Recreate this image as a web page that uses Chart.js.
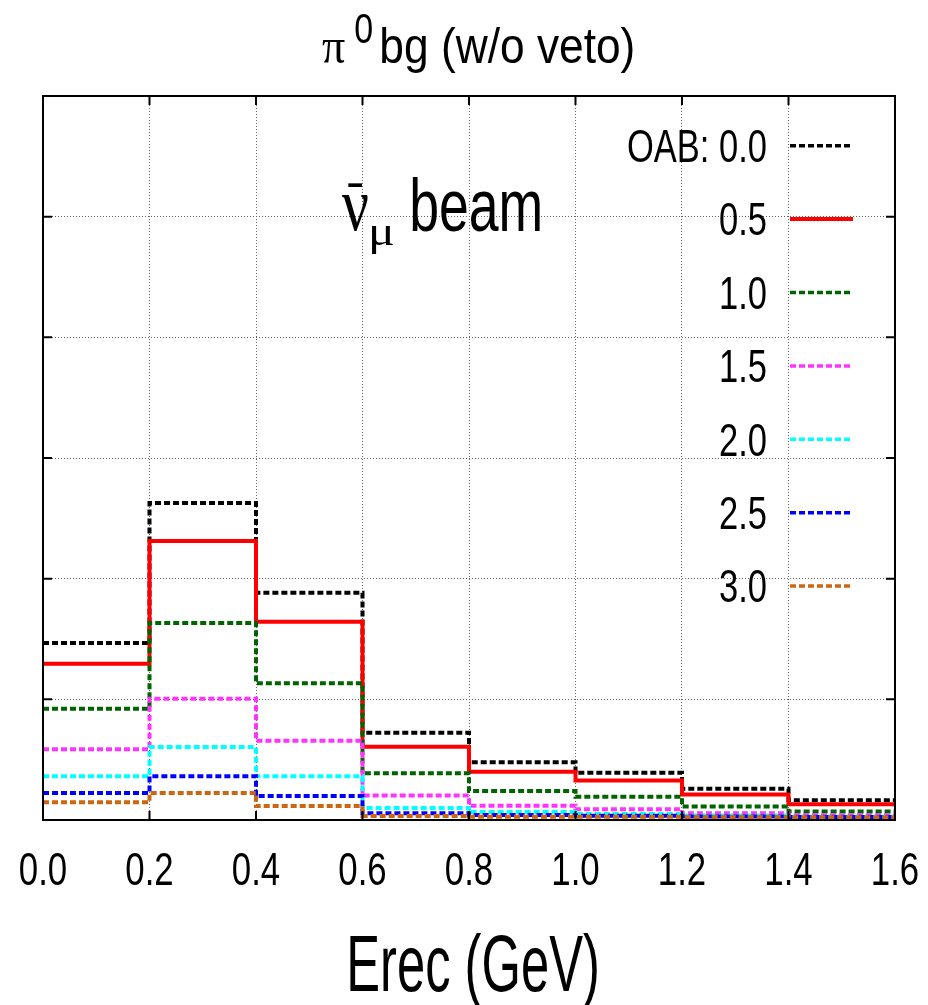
<!DOCTYPE html>
<html>
<head>
<meta charset="utf-8">
<title>pi0 bg (w/o veto)</title>
<script src="https://cdn.jsdelivr.net/npm/chart.js@4.4.1/dist/chart.umd.min.js"></script>
<style>
  html, body { margin: 0; padding: 0; background: #fff; }
  #wrap { width: 928px; height: 1005px; }
</style>
</head>
<body>
<div id="wrap"><canvas id="histChart"></canvas></div>
<script>
// bin edges in Erec (GeV) and tick labels
const edges = [0.0, 0.2, 0.4, 0.6, 0.8, 1.0, 1.2, 1.4, 1.6];
const tickLabels = ['0.0', '0.2', '0.4', '0.6', '0.8', '1.0', '1.2', '1.4', '1.6'];

// per-bin counts, one array per off-axis angle (arbitrary units)
const oab00 = [1.467, 2.627, 1.884, 0.723, 0.478, 0.392, 0.259, 0.164];
const oab05 = [1.295, 2.312, 1.643, 0.607, 0.400, 0.327, 0.211, 0.131];
const oab10 = [0.922, 1.633, 1.133, 0.387, 0.240, 0.192, 0.112, 0.070];
const oab15 = [0.586, 1.005, 0.657, 0.203, 0.119, 0.089, 0.056, 0.039];
const oab20 = [0.362, 0.605, 0.362, 0.099, 0.066, 0.050, 0.037, 0.027];
const oab25 = [0.224, 0.362, 0.199, 0.056, 0.041, 0.036, 0.029, 0.025];
const oab30 = [0.147, 0.224, 0.116, 0.033, 0.027, 0.027, 0.025, 0.022];

const oabLabels = ['OAB: 0.0', '0.5', '1.0', '1.5', '2.0', '2.5', '3.0'];
const oabSeries = [oab00, oab05, oab10, oab15, oab20, oab25, oab30];
const oabColors = ['#000000', '#ff0000', '#006400', '#ff33ff', '#00ffff', '#0000ff', '#cc6611'];
const oabDash = [[6, 3], [], [6, 3], [6, 3], [6, 3], [6, 3], [6, 3]];

// each bin value starts at its left edge; the last value is repeated to close the last bin
function steps(vals) {
    return edges.map((x, i) => ({ x: x, y: vals[Math.min(i, vals.length - 1)] }));
}

const SANS = '"Liberation Sans", Arial, sans-serif';
const SERIF = '"Liberation Serif", "Times New Roman", serif';

// draw text so its ink spans left..right at the given baseline
function textSpan(ctx, s, font, left, right, baseline) {
    ctx.save();
    ctx.font = font;
    ctx.textAlign = 'left';
    ctx.textBaseline = 'alphabetic';
    const m = ctx.measureText(s);
    const w = m.actualBoundingBoxLeft + m.actualBoundingBoxRight;
    ctx.translate(left, baseline);
    ctx.scale((right - left) / w, 1);
    ctx.fillText(s, m.actualBoundingBoxLeft, 0);
    ctx.restore();
}

// draw text with a horizontal squeeze, aligned at x
function textSqueezed(ctx, s, font, x, baseline, sx, align) {
    ctx.save();
    ctx.font = font;
    ctx.textAlign = align;
    ctx.textBaseline = 'alphabetic';
    ctx.translate(x, baseline);
    ctx.scale(sx, 1);
    ctx.fillText(s, 0, 0);
    ctx.restore();
}

// fit a glyph's ink box into a rectangle
function textBox(ctx, s, font, x0, y0, x1, y1) {
    ctx.save();
    ctx.font = font;
    ctx.textAlign = 'left';
    ctx.textBaseline = 'alphabetic';
    const m = ctx.measureText(s);
    const w = m.actualBoundingBoxLeft + m.actualBoundingBoxRight;
    const h = m.actualBoundingBoxAscent + m.actualBoundingBoxDescent;
    ctx.translate(x0, y0);
    ctx.scale((x1 - x0) / w, (y1 - y0) / h);
    ctx.fillText(s, m.actualBoundingBoxLeft, m.actualBoundingBoxAscent);
    ctx.restore();
}

const decor = {
    id: 'decor',
    afterDraw(chart) {
        const ctx = chart.ctx;
        const a = chart.chartArea;
        const xs = chart.scales.x;
        const ys = chart.scales.y;

        ctx.save();
        ctx.fillStyle = '#000';
        ctx.strokeStyle = '#000';
        ctx.setLineDash([]);

        // frame and inward tick marks
        ctx.lineWidth = 2;
        ctx.strokeRect(a.left, a.top, a.right - a.left, a.bottom - a.top);
        ctx.beginPath();
        xs.ticks.forEach(t => {
            const px = xs.getPixelForValue(t.value);
            ctx.moveTo(px, a.bottom); ctx.lineTo(px, a.bottom - 9);
            ctx.moveTo(px, a.top); ctx.lineTo(px, a.top + 9);
        });
        ys.ticks.forEach(t => {
            const py = ys.getPixelForValue(t.value);
            ctx.moveTo(a.left, py); ctx.lineTo(a.left + 9, py);
            ctx.moveTo(a.right, py); ctx.lineTo(a.right - 9, py);
        });
        ctx.stroke();

        // x tick labels
        tickLabels.forEach(l => {
            textSqueezed(ctx, l, '47px ' + SANS, xs.getPixelForValue(parseFloat(l)), 885, 0.74, 'center');
        });

        // axis title
        textSpan(ctx, 'Erec (GeV)', '80px ' + SANS, 350, 597, 991);

        // plot title
        textBox(ctx, 'π', '50px ' + SERIF, 322, 40, 345, 63);
        textBox(ctx, '0', '42px ' + SANS, 355, 13, 372, 43);
        textSpan(ctx, 'bg (w/o veto)', '50px ' + SANS, 382, 633, 63);

        // beam label
        textBox(ctx, 'ν', '78px ' + SERIF, 342, 195, 368, 231);
        textBox(ctx, '¯', '60px ' + SANS, 348, 184, 362, 188);
        textBox(ctx, 'μ', '50px ' + SERIF, 372, 225, 393, 254);
        textSpan(ctx, 'beam', '75px ' + SANS, 412, 540, 231);

        // legend
        oabLabels.forEach((l, i) => {
            const yc = 145.7 + i * 73.4;
            textSqueezed(ctx, l, '46px ' + SANS, 767, yc + 16.3, 0.75, 'right');
            ctx.beginPath();
            ctx.strokeStyle = oabColors[i];
            ctx.lineWidth = i === 1 ? 4 : 3.5;
            ctx.setLineDash(oabDash[i]);
            ctx.moveTo(790, yc);
            ctx.lineTo(853, yc);
            ctx.stroke();
        });
        ctx.restore();
    }
};

const ctx = document.getElementById('histChart').getContext('2d');
new Chart(ctx, {
    type: 'line',
    data: {
        datasets: oabSeries.map((vals, i) => ({
            label: oabLabels[i],
            data: steps(vals),
            borderColor: oabColors[i],
            borderWidth: 4,
            borderDash: oabDash[i],
            stepped: 'before',
            pointRadius: 0,
            fill: false,
            order: oabSeries.length - i
        }))
    },
    options: {
        responsive: true,
        maintainAspectRatio: false,
        animation: false,
        devicePixelRatio: 1,
        layout: { padding: { left: 43, top: 96, right: 33, bottom: 185 } },
        plugins: {
            legend: { display: false },
            tooltip: { enabled: false },
            title: { display: false }
        },
        scales: {
            x: {
                type: 'linear',
                min: 0,
                max: 1.6,
                ticks: { stepSize: 0.2, display: false },
                grid: { color: '#666', lineWidth: 1, drawTicks: false },
                border: { display: false, dash: [1, 2] }
            },
            y: {
                min: 0,
                max: 6,
                ticks: { stepSize: 1, display: false },
                grid: { color: '#666', lineWidth: 1, drawTicks: false },
                border: { display: false, dash: [1, 2] }
            }
        }
    },
    plugins: [decor]
});
</script>
</body>
</html>
